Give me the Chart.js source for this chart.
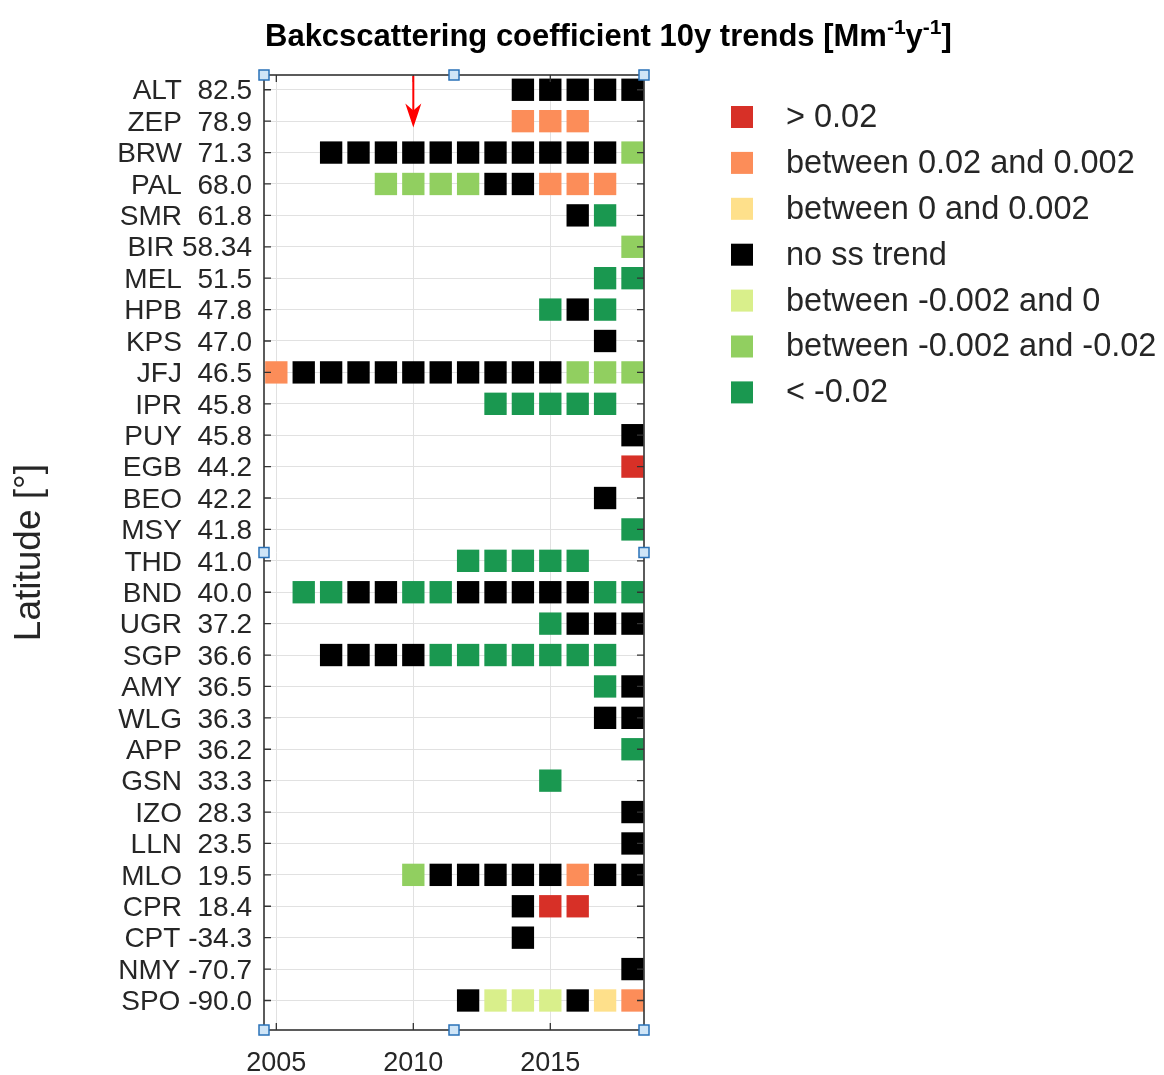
<!DOCTYPE html>
<html>
<head>
<meta charset="utf-8">
<script src="https://cdn.jsdelivr.net/npm/chart.js@4"></script>
<style>
  html, body { margin: 0; padding: 0; background: #ffffff; }
  #wrap { width: 1164px; height: 1075px; position: relative; }
</style>
</head>
<body>
<div id="wrap"><canvas id="c" width="1164" height="1075"></canvas></div>
<script>
// ---------------- data ----------------
const stations = ['ALT','ZEP','BRW','PAL','SMR','BIR','MEL','HPB','KPS','JFJ',
                  'IPR','PUY','EGB','BEO','MSY','THD','BND','UGR','SGP','AMY',
                  'WLG','APP','GSN','IZO','LLN','MLO','CPR','CPT','NMY','SPO'];
const latitudes = [82.5, 78.9, 71.3, 68.0, 61.8, 58.34, 51.5, 47.8, 47.0, 46.5,
                   45.8, 45.8, 44.2, 42.2, 41.8, 41.0, 40.0, 37.2, 36.6, 36.5,
                   36.3, 36.2, 33.3, 28.3, 23.5, 19.5, 18.4, -34.3, -70.7, -90.0];
const years = [2005, 2006, 2007, 2008, 2009, 2010, 2011, 2012, 2013, 2014, 2015, 2016, 2017, 2018];
// one string per station, one character per year (2005..2018); '.' = no value
const trendRows = [
  '.........KKKKK', // ALT
  '.........OOO..', // ZEP
  '..KKKKKKKKKKKL', // BRW
  '....LLLLKKOOO.', // PAL
  '...........KG.', // SMR
  '.............L', // BIR
  '............GG', // MEL
  '..........GKG.', // HPB
  '............K.', // KPS
  'OKKKKKKKKKKLLL', // JFJ
  '........GGGGG.', // IPR
  '.............K', // PUY
  '.............R', // EGB
  '............K.', // BEO
  '.............G', // MSY
  '.......GGGGG..', // THD
  '.GGKKGGKKKKKGG', // BND
  '..........GKKK', // UGR
  '..KKKKGGGGGGG.', // SGP
  '............GK', // AMY
  '............KK', // WLG
  '.............G', // APP
  '..........G...', // GSN
  '.............K', // IZO
  '.............K', // LLN
  '.....LKKKKKOKK', // MLO
  '.........KRR..', // CPR
  '.........K....', // CPT
  '.............K', // NMY
  '.......KPPPKYO'  // SPO
];
const categoryCodes  = ['R', 'O', 'Y', 'K', 'P', 'L', 'G'];
const categoryLabels = ['> 0.02', 'between 0.02 and 0.002', 'between 0 and 0.002', 'no ss trend',
                        'between -0.002 and 0', 'between -0.002 and -0.02', '< -0.02'];
const categoryColors = ['#d73027', '#fc8d59', '#fee08b', '#000000', '#d9ef8b', '#91cf60', '#1a9850'];
const xTickValues = [2005, 2010, 2015];
const arrowYear = 2010;      // red marker arrow
const arrowTipRow = 1.2;     // in station-row units

// ---------------- build datasets ----------------
const datasets = categoryCodes.map((code, c) => {
  const pts = [];
  trendRows.forEach((row, i) => {
    for (let j = 0; j < years.length; j++) {
      if (row[j] === code) pts.push({ x: years[j], y: i });
    }
  });
  return {
    label: categoryLabels[c],
    data: pts,
    pointStyle: 'rect',
    pointRadius: 15.8,
    pointHoverRadius: 15.8,
    pointBorderWidth: 0,
    backgroundColor: categoryColors[c],
    borderColor: categoryColors[c],
    showLine: false,
    clip: false
  };
});

function latText(v) {
  const s = Math.abs(v * 10 - Math.round(v * 10)) < 1e-9 ? v.toFixed(1) : String(v);
  return s.padStart(5, ' ');
}

const FONT = "'Liberation Sans', Arial, Helvetica, sans-serif";
const TXT = '#262626';

const decor = {
  id: 'decor',
  afterDraw(chart) {
    const ctx = chart.ctx;
    const a = chart.chartArea;
    const xs = chart.scales.x, ys = chart.scales.y;
    ctx.save();
    // box
    ctx.strokeStyle = '#333333';
    ctx.lineWidth = 1.6;
    ctx.strokeRect(a.left, a.top, a.right - a.left, a.bottom - a.top);
    // inner ticks
    ctx.lineWidth = 1.3;
    ctx.beginPath();
    stations.forEach((s, i) => {
      const py = ys.getPixelForValue(i);
      ctx.moveTo(a.left, py); ctx.lineTo(a.left + 7, py);
      ctx.moveTo(a.right - 7, py); ctx.lineTo(a.right, py);
    });
    xTickValues.forEach(v => {
      const px = xs.getPixelForValue(v);
      ctx.moveTo(px, a.top); ctx.lineTo(px, a.top + 7);
      ctx.moveTo(px, a.bottom - 7); ctx.lineTo(px, a.bottom);
    });
    ctx.stroke();

    // red arrow
    const ax = xs.getPixelForValue(arrowYear);
    const tipY = ys.getPixelForValue(arrowTipRow);
    ctx.strokeStyle = '#ff0000';
    ctx.fillStyle = '#ff0000';
    ctx.lineWidth = 2;
    ctx.beginPath();
    ctx.moveTo(ax, a.top + 1);
    ctx.lineTo(ax, tipY - 14);
    ctx.stroke();
    ctx.beginPath();
    ctx.moveTo(ax, tipY);
    ctx.lineTo(ax - 8, tipY - 24);
    ctx.lineTo(ax, tipY - 17);
    ctx.lineTo(ax + 8, tipY - 24);
    ctx.closePath();
    ctx.fill();

    // selection handles
    const hx = [a.left, (a.left + a.right) / 2, a.right];
    const hy = [a.top, (a.top + a.bottom) / 2, a.bottom];
    ctx.lineWidth = 1.5;
    hy.forEach((y, r) => hx.forEach((x, c) => {
      if (r === 1 && c === 1) return;
      ctx.fillStyle = '#cfe5f7';
      ctx.strokeStyle = '#2a72b8';
      ctx.fillRect(x - 5, y - 5, 10, 10);
      ctx.strokeRect(x - 5, y - 5, 10, 10);
    }));

    // title with superscripts
    ctx.fillStyle = '#000000';
    ctx.textBaseline = 'alphabetic';
    ctx.textAlign = 'left';
    const big = "bold 31px " + FONT, small = "bold 21px " + FONT;
    const parts = [
      ['Bakcscattering coefficient 10y trends [Mm', big, 0],
      ['-1', small, -12],
      ['y', big, 0],
      ['-1', small, -12],
      [']', big, 0]
    ];
    let tx = 265;
    const baseY = 46;
    parts.forEach(([t, f, dy]) => {
      ctx.font = f;
      ctx.fillText(t, tx, baseY + dy);
      tx += ctx.measureText(t).width;
    });

    // legend
    ctx.font = "32.5px " + FONT;
    ctx.textBaseline = 'middle';
    categoryLabels.forEach((lab, k) => {
      const cy = 117 + k * 45.9;
      ctx.fillStyle = categoryColors[k];
      ctx.fillRect(731, cy - 11, 22, 22);
      ctx.fillStyle = TXT;
      ctx.fillText(lab, 786, cy + 1);
    });
    ctx.restore();
  }
};

new Chart(document.getElementById('c'), {
  type: 'scatter',
  data: { datasets },
  options: {
    responsive: false,
    animation: false,
    events: [],
    layout: { padding: { top: 75, right: 520, bottom: 0, left: 0 } },
    plugins: { legend: { display: false }, tooltip: { enabled: false }, title: { display: false } },
    scales: {
      x: {
        type: 'linear',
        min: 2004.55, max: 2018.42,
        afterBuildTicks: s => { s.ticks = xTickValues.map(v => ({ value: v })); },
        afterFit: s => { s.height = 45; },
        grid: { color: '#e1e1e1', lineWidth: 1, drawTicks: false },
        border: { display: false },
        ticks: { font: { family: FONT, size: 27 }, color: TXT, padding: 17, maxRotation: 0,
                 callback: v => String(v) }
      },
      y: {
        type: 'linear',
        reverse: true,
        min: -0.47, max: 29.94,
        afterBuildTicks: s => { s.ticks = stations.map((_, i) => ({ value: i })); },
        afterFit: s => { s.width = 264; },
        grid: { color: '#e1e1e1', lineWidth: 1, drawTicks: false },
        border: { display: false },
        ticks: {
          autoSkip: false,
          font: { family: FONT, size: 28 }, color: TXT, padding: 12, labelOffset: 2,
          callback: v => stations[v] + ' ' + latText(latitudes[v])
        },
        title: { display: true, text: 'Latitude [°]', color: TXT,
                 font: { family: FONT, size: 37 }, padding: { top: 8, bottom: 0 } }
      }
    }
  },
  plugins: [decor]
});
</script>
</body>
</html>
